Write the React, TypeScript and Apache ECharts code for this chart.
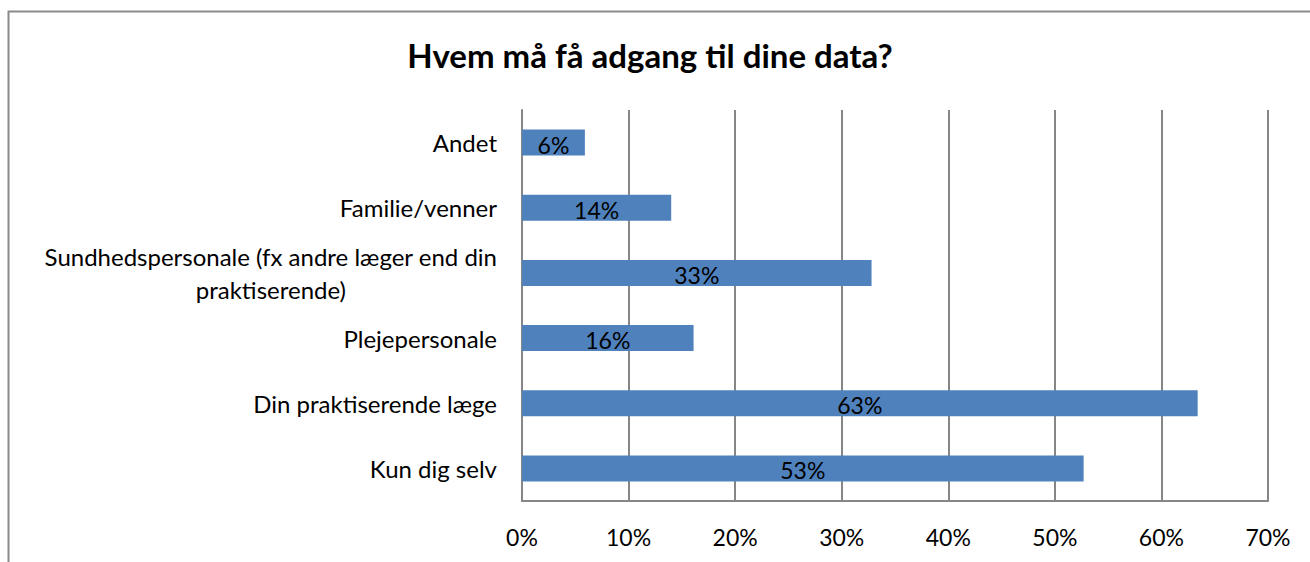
import React, { useEffect, useRef } from "react";
import * as echarts from "echarts";

const categories = [
  "Kun dig selv",
  "Din praktiserende læge",
  "Plejepersonale",
  "Sundhedspersonale (fx andre læger end din\npraktiserende)",
  "Familie/venner",
  "Andet",
];
const values = [52.7, 63.4, 16.1, 32.8, 14.0, 5.9];
const xTicks = [0, 10, 20, 30, 40, 50, 60, 70];
const title = "Hvem må få adgang til dine data?";

const FONT = "Lato, 'Open Sans', sans-serif";
const CAT_SIZE = 24;

function measure(text: string): number {
  const c = document.createElement("canvas").getContext("2d");
  if (!c) return text.length * CAT_SIZE * 0.5;
  c.font = `${CAT_SIZE}px ${FONT}`;
  return c.measureText(text).width;
}

export default function App() {
  const ref = useRef<HTMLDivElement>(null);
  useEffect(() => {
    document.body.style.margin = "0";
    const chart = echarts.init(ref.current!, undefined, { renderer: "svg" });
    const multi = categories.find((c) => c.includes("\n")) || "";
    const mLines = multi.split("\n");
    const mWidths = mLines.map(measure);
    const mMax = Math.max(...mWidths, 0);
    const rich: any = {
      a: { fontFamily: FONT, fontSize: CAT_SIZE, color: "#000", lineHeight: 33 },
    };
    mLines.forEach((_, i) => {
      rich[`p${i}`] = {
        fontFamily: FONT,
        fontSize: CAT_SIZE,
        color: "#000",
        lineHeight: 33,
        padding: [0, Math.round((mMax - mWidths[i]) / 2), 0, 0],
      };
    });
    chart.setOption({
      animation: false,
      backgroundColor: "#ffffff",
      title: {
        text: title,
        left: 645,
        textAlign: "center",
        top: 33,
        textStyle: { fontFamily: FONT, fontSize: 33, fontWeight: "bold", color: "#000" },
      },
      graphic: [
        {
          type: "rect",
          shape: { x: 8.5, y: 11.5, width: 1400, height: 700 },
          style: { fill: "none", stroke: "#8a8a8a", lineWidth: 2 },
          silent: true,
        },
      ],
      grid: { left: 522, right: 42, top: 110, bottom: 61, containLabel: false },
      xAxis: {
        type: "value",
        min: xTicks[0],
        max: xTicks[xTicks.length - 1],
        interval: 10,
        axisLine: { show: true, lineStyle: { color: "#868686", width: 2 } },
        axisTick: { show: false },
        splitLine: { show: true, lineStyle: { color: "#868686", width: 2 } },
        axisLabel: {
          formatter: (v: number) => `${v}%`,
          fontFamily: FONT,
          fontSize: 23,
          color: "#000",
          margin: 24,
        },
      },
      yAxis: {
        type: "category",
        data: categories,
        axisLine: { show: true, lineStyle: { color: "#868686", width: 2 } },
        axisTick: { show: false },
        axisLabel: {
          fontFamily: FONT,
          fontSize: CAT_SIZE,
          color: "#000",
          margin: 25,
          align: "right",
          lineHeight: 33,
          formatter: (v: string) => {
            if (v !== multi) return v;
            return mLines.map((l, i) => `{p${i}|${l}}`).join("\n");
          },
          rich,
        },
      },
      series: [
        {
          type: "bar",
          data: values,
          barWidth: "40%",
          itemStyle: { color: "#4f81bd" },
          label: {
            show: true,
            position: "inside",
            formatter: (p: any) => `${Math.round(p.value)}%`,
            fontFamily: FONT,
            fontSize: 23,
            color: "#000",
            offset: [0, 2],
          },
        },
      ],
    });
    return () => chart.dispose();
  }, []);
  return <div ref={ref} style={{ width: 1310, height: 562 }} />;
}
